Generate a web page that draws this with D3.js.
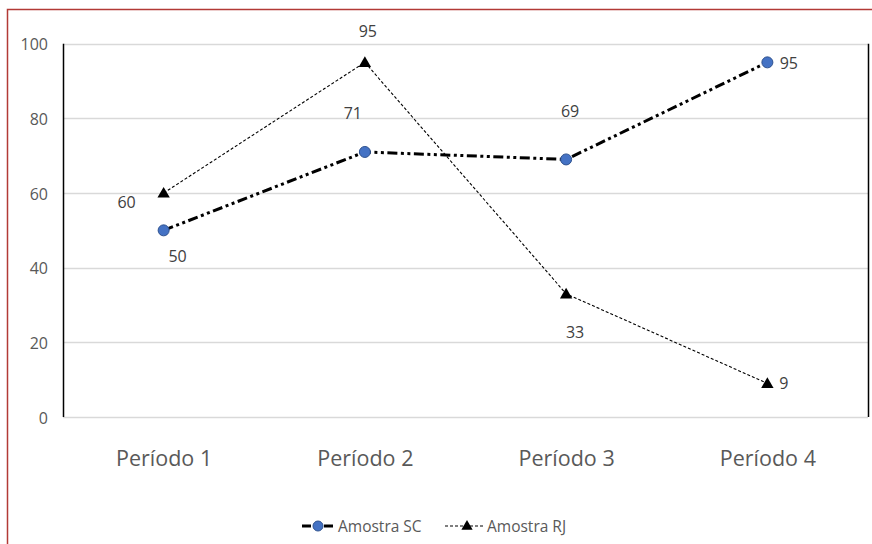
<!DOCTYPE html>
<html>
<head>
<meta charset="utf-8">
<script src="https://cdn.jsdelivr.net/npm/d3@7"></script>
<style>
  html, body { margin: 0; padding: 0; background: #fff; }
  svg { display: block; font-family: "Open Sans", "Noto Sans", sans-serif; }
</style>
</head>
<body>
<svg id="chart" width="872" height="544"></svg>
<script>
// Categories and series values
const periods = ["Período 1", "Período 2", "Período 3", "Período 4"];
const amostraSC = [50, 71, 69, 95];
const amostraRJ = [60, 95, 33, 9];
const yTicks = [0, 20, 40, 60, 80, 100];
const seriesNames = ["Amostra SC", "Amostra RJ"];

// Value label offsets (label centre x, baseline y) relative to each point
const labelOffsetSC = [[14, 32], [-12, -33], [4, -42], [21.5, 6.5]];
const labelOffsetRJ = [[-37, 15], [3, -25.5], [9, 44], [16.5, 5.5]];

const svg = d3.select("#chart");
const W = 872, H = 544;
const plot = { left: 63, right: 868, top: 43.7, bottom: 417 };

// Outer chart frame
svg.append("rect")
  .attr("x", 7.5).attr("y", 9.5)
  .attr("width", W + 10).attr("height", H + 10)
  .attr("fill", "#fff").attr("stroke", "#B23A36").attr("stroke-width", 1.5);

const x = d3.scalePoint().domain(periods)
  .range([plot.left, plot.right]).padding(0.5);
const y = d3.scaleLinear().domain([0, 100]).range([plot.bottom, plot.top]);

// Horizontal gridlines
svg.append("g").selectAll("line").data(yTicks).join("line")
  .attr("x1", plot.left).attr("x2", plot.right)
  .attr("y1", d => Math.round(y(d)) + 0.5).attr("y2", d => Math.round(y(d)) + 0.5)
  .attr("stroke", "#d9d9d9").attr("stroke-width", 1.3);

// Y axis labels
const yAxis = d3.axisLeft(y).tickValues(yTicks).tickSize(0).tickPadding(15);
const gy = svg.append("g").attr("transform", `translate(${plot.left},0)`).call(yAxis);
gy.select(".domain").remove();
gy.selectAll("text").attr("font-size", 16).attr("fill", "#595959").attr("dy", "0.38em")
  .attr("font-family", "'Open Sans', sans-serif");

// Vertical axis lines on both sides
svg.append("line").attr("x1", plot.left + 0.5).attr("x2", plot.left + 0.5)
  .attr("y1", plot.top).attr("y2", plot.bottom).attr("stroke", "#000").attr("stroke-width", 1.5);
svg.append("line").attr("x1", plot.right + 0.5).attr("x2", plot.right + 0.5)
  .attr("y1", plot.top).attr("y2", plot.bottom).attr("stroke", "#000").attr("stroke-width", 1.5);

// X axis category labels
const xAxis = d3.axisBottom(x).tickSize(0).tickPadding(34);
const gx = svg.append("g").attr("transform", `translate(0,${plot.bottom})`).call(xAxis);
gx.select(".domain").remove();
gx.selectAll("text").attr("font-size", 21.5).attr("fill", "#595959")
  .attr("font-family", "'Open Sans', sans-serif");

const line = d3.line().x((d, i) => x(periods[i])).y(d => y(d));

// Amostra RJ: thin dashed line with triangles
svg.append("path").datum(amostraRJ)
  .attr("d", line).attr("fill", "none")
  .attr("stroke", "#000").attr("stroke-width", 1.1).attr("stroke-dasharray", "3,2");

// Amostra SC: heavy dash-dot-dot line with circles
svg.append("path").datum(amostraSC)
  .attr("d", line).attr("fill", "none")
  .attr("stroke", "#000").attr("stroke-width", 3).attr("stroke-dasharray", "10,3.5,3,3.5,3,3.5");

const tri = d3.symbol().type(d3.symbolTriangle).size(66);
svg.append("g").selectAll("path").data(amostraRJ).join("path")
  .attr("d", tri)
  .attr("transform", (d, i) => `translate(${x(periods[i])},${y(d) + 1})`)
  .attr("fill", "#000");

svg.append("g").selectAll("circle").data(amostraSC).join("circle")
  .attr("cx", (d, i) => x(periods[i])).attr("cy", d => y(d)).attr("r", 5.5)
  .attr("fill", "#4472C4").attr("stroke", "#2F528F").attr("stroke-width", 1);

// Value labels
function drawLabels(values, offsets) {
  svg.append("g").selectAll("text").data(values).join("text")
    .attr("x", (d, i) => x(periods[i]) + offsets[i][0])
    .attr("y", (d, i) => y(d) + offsets[i][1])
    .attr("text-anchor", "middle")
    .attr("font-size", 16).attr("fill", "#404040")
    .text(d => d);
}
drawLabels(amostraSC, labelOffsetSC);
drawLabels(amostraRJ, labelOffsetRJ);

// Legend
const legend = svg.append("g").attr("transform", "translate(0,526)");
legend.append("line").attr("x1", 302).attr("x2", 334).attr("y1", 0).attr("y2", 0)
  .attr("stroke", "#000").attr("stroke-width", 3).attr("stroke-dasharray", "9,4,5,4");
legend.append("circle").attr("cx", 318).attr("cy", 0).attr("r", 5)
  .attr("fill", "#4472C4").attr("stroke", "#2F528F");
legend.append("text").attr("x", 338).attr("y", 5.5).attr("font-size", 15.5).attr("fill", "#595959")
  .text(seriesNames[0]);
legend.append("line").attr("x1", 445).attr("x2", 485).attr("y1", 0).attr("y2", 0)
  .attr("stroke", "#000").attr("stroke-width", 1.1).attr("stroke-dasharray", "3,2");
legend.append("path").attr("d", d3.symbol().type(d3.symbolTriangle).size(55))
  .attr("transform", "translate(467,0.5)").attr("fill", "#000");
legend.append("text").attr("x", 487).attr("y", 5.5).attr("font-size", 15.5).attr("fill", "#595959")
  .text(seriesNames[1]);
</script>
</body>
</html>
